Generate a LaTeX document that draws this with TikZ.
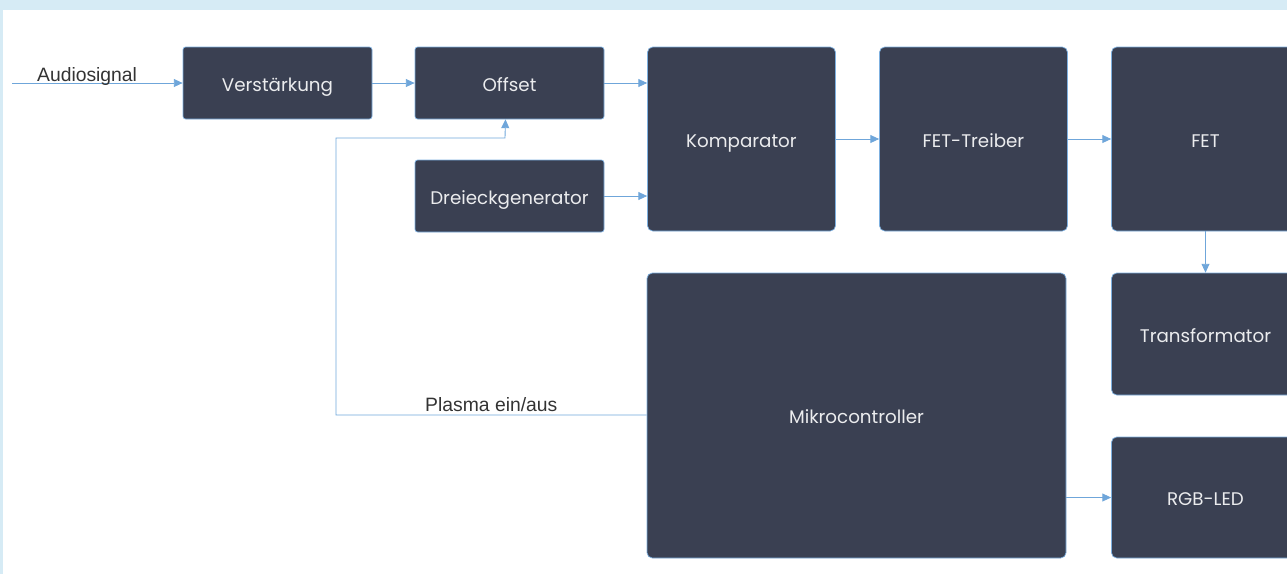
\documentclass[tikz,border=0pt]{standalone}
\usepackage{fontspec}
\setmainfont{Liberation Sans}
\newfontfamily\boxfont{Poppins}
\usetikzlibrary{shapes.geometric, arrows.meta}
\definecolor{boxfill}{HTML}{3A4052}
\definecolor{boxline}{HTML}{7DB0E0}
\definecolor{wire}{HTML}{6FA6DA}
\definecolor{band}{HTML}{D6EBF5}
\tikzstyle{block} = [rectangle, rounded corners=1.5pt, minimum width=3.78cm, minimum height=1.44cm, text centered, text height=9.6pt, text depth=0pt, draw=boxline, line width=0.4pt, fill=boxfill, text=white!90!boxfill, font=\boxfont\fontsize{10.4}{12}\selectfont]
\tikzstyle{bigblock} = [block, rounded corners=3pt, minimum width=3.76cm, minimum height=3.68cm]
\tikzstyle{arrow} = [wire, line width=0.5pt, -{Triangle[length=5pt,width=4.5pt]}]
\tikzstyle{sig} = [font=\fontsize{11}{13}\selectfont, text=black!80, inner sep=0.5pt, anchor=base]

\begin{document}
\begin{tikzpicture}[node distance=4.64cm]
\fill[band] (0,0) rectangle (25.74,-0.20);
\fill[band] (0,0) rectangle (0.06,-11.48);
\useasboundingbox (0,0) rectangle (25.74,-11.48);
\clip (0,0) rectangle (25.74,-11.48);

\node (verst) [block] at (5.55,-1.66) {Verstärkung};
  \node (offset) [block, right of=verst] {Offset};
  \node (dreieck) [block, below of=offset, yshift=2.38cm] {Dreieckgenerator};
    \node (komp) [bigblock, right of=offset, yshift=-1.12cm] {Komparator};
    \node (treiber) [bigblock, right of=komp] {FET-Treiber};
    \node (fet) [bigblock, right of=treiber] {FET};
    \node (trafo) [bigblock, minimum height=2.44cm, below of=fet, yshift=0.74cm] {Transformator};
    \node (rgb) [bigblock, minimum height=2.42cm, below of=trafo, yshift=1.37cm] {RGB-LED};
    \node (mikro) [bigblock, minimum width=8.38cm, minimum height=5.70cm] at (17.13,-8.31) {Mikrocontroller};

  \coordinate (audioin) at (0.24,-1.66);
  \coordinate (fbk) at (6.72,-8.30);

  \draw [arrow] (audioin) -- node[sig, pos=0.44, yshift=1pt] {Audiosignal} (verst);
  \draw [arrow] (verst) -- (offset);
  \draw [arrow] (offset.east) -- (offset.east -| komp.west);
  \draw [arrow] (dreieck.east) -- (dreieck.east -| komp.west);
  \draw [arrow] (komp) -- (treiber);
  \draw [arrow] (treiber) -- (fet);
  \draw [arrow] (fet) -- (trafo);
  \draw [arrow] (mikro.east |- rgb.west) -- (rgb.west);

  % feedback from the controller back into the offset stage
  \draw [arrow] (mikro.west |- fbk) -- node[sig, yshift=1.8pt] {Plasma ein/aus} (fbk) |- ++(3.38,5.54) -- ([xshift=-0.08cm]offset.south);
\end{tikzpicture}
\end{document}
